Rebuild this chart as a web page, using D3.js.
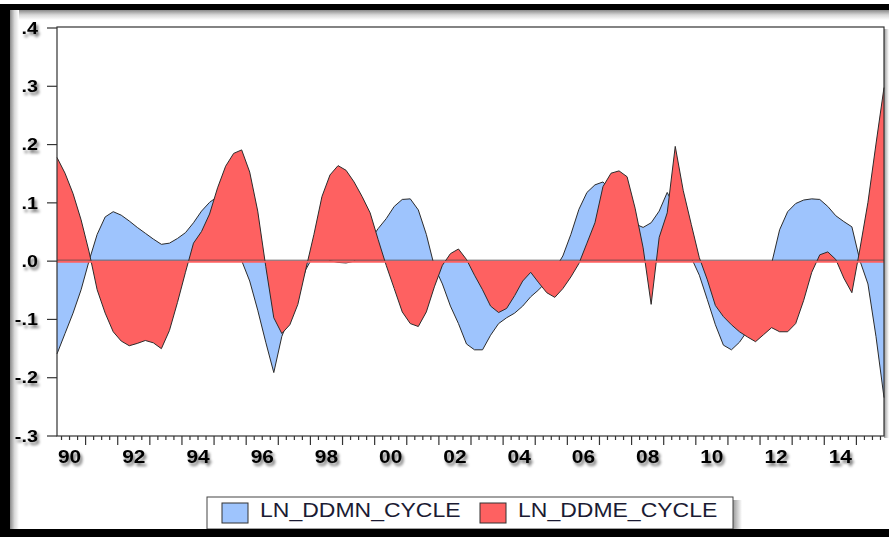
<!DOCTYPE html>
<html>
<head>
<meta charset="utf-8">
<script src="https://cdn.jsdelivr.net/npm/d3@7"></script>
<style>
body{margin:0;background:#fff;}
svg{display:block;font-family:Arial,"Liberation Sans",sans-serif;}
</style>
</head>
<body>
<div id="chart"></div>
<script>
const width = 889, height = 537;
const plot = {left: 57, right: 884, top: 27, bottom: 436};

// quarterly observations 1990Q1 - 2015Q4
const periods = d3.range(104).map(i => (1990 + Math.floor(i / 4)) + "Q" + (i % 4 + 1));

const seriesNames = ["LN_DDMN_CYCLE", "LN_DDME_CYCLE"];

const ddmn = [
  -.160, -.125, -.090, -.050, .000, .045, .075, .084,
  .078, .068, .057, .047, .037, .028, .030, .038,
  .048, .065, .085, .100, .110, .095, .050, .000,
  -.035, -.085, -.140, -.192, -.130, -.095, -.055, -.015,
  .010, .010, .000, -.003, -.004, -.001, .015, .035,
  .055, .072, .093, .105, .106, .087, .045, -.010,
  -.040, -.078, -.108, -.143, -.153, -.153, -.128, -.108,
  -.098, -.090, -.078, -.062, -.050, -.035, -.015, .008,
  .045, .088, .117, .130, .135, .120, .100, .080,
  .063, .057, .065, .085, .117, .090, .050, .005,
  -.025, -.067, -.110, -.145, -.153, -.140, -.120, -.090,
  -.050, -.005, .053, .084, .098, .104, .106, .105,
  .093, .077, .067, .058, .000, -.040, -.130, -.235];

const ddme = [
  .177, .150, .115, .070, .015, -.050, -.090, -.122,
  -.138, -.146, -.142, -.137, -.141, -.151, -.120, -.072,
  -.020, .030, .050, .080, .125, .162, .184, .190,
  .152, .085, -.010, -.098, -.125, -.110, -.075, -.014,
  .045, .110, .147, .163, .155, .135, .110, .082,
  .036, -.008, -.048, -.088, -.108, -.113, -.088, -.045,
  -.008, .012, .020, .002, -.025, -.050, -.078, -.089,
  -.082, -.060, -.035, -.020, -.038, -.055, -.063, -.048,
  -.028, -.005, .030, .065, .127, .150, .154, .144,
  .090, .022, -.075, .040, .082, .196, .120, .062,
  .005, -.033, -.077, -.096, -.110, -.122, -.131, -.139,
  -.127, -.115, -.122, -.122, -.108, -.068, -.020, .010,
  .015, .002, -.030, -.055, .020, .100, .200, .297];

const yTicks = [-0.3, -0.2, -0.1, 0, 0.1, 0.2, 0.3, 0.4];
const yTickLabels = ["-.3", "-.2", "-.1", ".0", ".1", ".2", ".3", ".4"];
const xTickLabels = ["90", "92", "94", "96", "98", "00", "02", "04", "06", "08", "10", "12", "14"];

const blue = "#9ec4fd", red = "#fe6161", edge = "#2b2b2b";

let svg = d3.select("#chart").
append("svg").
attr("width", width).
attr("height", height);

let defs = svg.append("defs");

let shadow = defs.append("filter").
attr("id", "txtShadow").
attr("x", "-30%").attr("y", "-30%").
attr("width", "180%").attr("height", "190%");
shadow.append("feGaussianBlur").attr("in", "SourceAlpha").attr("stdDeviation", 1.5);
shadow.append("feOffset").attr("dx", 2).attr("dy", 3);
shadow.append("feComponentTransfer").append("feFuncA").attr("type", "linear").attr("slope", 0.55);
let sm = shadow.append("feMerge");
sm.append("feMergeNode");
sm.append("feMergeNode").attr("in", "SourceGraphic");

function grad(id, x2, y2, stops) {
  let g = defs.append("linearGradient").attr("id", id).
  attr("x1", 0).attr("y1", 0).attr("x2", x2).attr("y2", y2);
  stops.forEach(s => g.append("stop").attr("offset", s[0]).attr("stop-color", s[1]));
}
grad("shadeDown", 0, 1, [[0, "#8a8a8a"], [0.5, "#d8d8d8"], [1, "#ffffff"]]);
grad("shadeRight", 1, 0, [[0, "#8a8a8a"], [0.5, "#d8d8d8"], [1, "#ffffff"]]);
grad("shadeSide", 1, 0, [[0, "#9a9a9a"], [1, "#ffffff"]]);

// outer frame
svg.append("rect").attr("x", 10).attr("y", 10).attr("width", width - 10).attr("height", 10).attr("fill", "url(#shadeDown)");
svg.append("rect").attr("x", 10).attr("y", 10).attr("width", 9).attr("height", height - 10).attr("fill", "url(#shadeRight)");
svg.append("rect").attr("x", 0).attr("y", 4).attr("width", width).attr("height", 6).attr("fill", "#000");
svg.append("rect").attr("x", 0).attr("y", 4).attr("width", 10).attr("height", height).attr("fill", "#000");

let x = d3.scaleLinear().
domain([0, periods.length - 1]).
range([plot.left, plot.right]);

let y = d3.scaleLinear().
domain([-0.3, 0.4]).
range([435.5, 27.5]);

// plot background + frame shadow
svg.append("rect").
attr("x", plot.right).attr("y", plot.top + 2).
attr("width", 5).attr("height", plot.bottom - plot.top).
attr("fill", "url(#shadeSide)");
svg.append("rect").
attr("x", plot.left).attr("y", plot.top).
attr("width", plot.right - plot.left).attr("height", plot.bottom - plot.top).
attr("fill", "#fff");

let area = d3.area().
x((d, i) => x(i)).
y0(y(0)).
y1(d => y(d));

let line = d3.line().
x((d, i) => x(i)).
y(d => y(d));

[[ddmn, blue], [ddme, red]].forEach(([vals, col]) => {
  svg.append("path").
  datum(vals).
  attr("d", area).
  attr("fill", col);
  svg.append("path").
  datum(vals).
  attr("d", line).
  attr("fill", "none").
  attr("stroke", edge).
  attr("stroke-width", 1);
});

// zero line
svg.append("line").
attr("x1", plot.left).attr("x2", plot.right).
attr("y1", y(0) + 1).attr("y2", y(0) + 1).
attr("stroke", red).attr("stroke-width", 2);
svg.append("line").
attr("x1", plot.left).attr("x2", plot.right).
attr("y1", y(0) - 0.5).attr("y2", y(0) - 0.5).
attr("stroke", "#3a3a3a").attr("stroke-width", 0.7);

svg.append("rect").
attr("x", plot.left).attr("y", plot.top).
attr("width", plot.right - plot.left).attr("height", plot.bottom - plot.top).
attr("fill", "none").
attr("stroke", "#333").
attr("stroke-width", 1.2);

// y axis
let yAxis = svg.append("g").
attr("transform", `translate(${plot.left},0)`).
call(d3.axisLeft(y).
tickValues(yTicks).
tickSize(10).
tickPadding(8).
tickFormat((d, i) => yTickLabels[i]));
yAxis.select(".domain").remove();
yAxis.selectAll("line").attr("stroke", "#333").attr("stroke-width", 1.2);
yAxis.selectAll("text").
attr("fill", "#000").
attr("font-size", 17).
attr("font-weight", "bold").
attr("x", -16.5).
attr("dy", "0.34em").
attr("transform", "scale(1.16,1)").
attr("filter", "url(#txtShadow)");

// x axis: quarter ticks at slot boundaries, longer at year boundaries
let xAxis = svg.append("g").
attr("transform", `translate(0,${plot.bottom})`).
call(d3.axisBottom(x).
tickValues(d3.range(0.5, periods.length - 1, 1)).
tickSize(4).
tickFormat(""));
xAxis.select(".domain").remove();
xAxis.selectAll("line").
attr("stroke", "#333").
attr("stroke-width", 1.2).
attr("y2", d => (d + 0.5) % 4 === 0 ? 9 : 4);

// year labels centred on each labelled year
let xLab = svg.append("g").
attr("transform", `translate(0,${plot.bottom})`).
call(d3.axisBottom(x).
tickValues(xTickLabels.map((d, k) => k * 8 + 1.5)).
tickSize(0).
tickPadding(0).
tickFormat((d, i) => xTickLabels[i]));
xLab.select(".domain").remove();
xLab.selectAll("text").
attr("fill", "#000").
attr("font-size", 18).
attr("font-weight", "bold").
attr("y", 27).
attr("dy", 0).
attr("transform", "scale(1.16,1)").
attr("filter", "url(#txtShadow)");

// legend
svg.append("rect").attr("x", 733).attr("y", 500).attr("width", 9).attr("height", 29).attr("fill", "url(#shadeSide)");
svg.append("rect").
attr("x", 207).attr("y", 497).
attr("width", 526).attr("height", 32).
attr("fill", "#fff").
attr("stroke", "#444").
attr("stroke-width", 1);

let legendItem = svg.selectAll(".legend-item").
data(seriesNames).
enter().
append("g").
attr("class", "legend-item").
attr("transform", (d, i) => `translate(${222 + i * 258},503)`);

legendItem.append("rect").
attr("width", 26).
attr("height", 20).
attr("fill", (d, i) => i === 0 ? blue : red).
attr("stroke", "#333").
attr("stroke-width", 1);

legendItem.append("text").
attr("x", 38 / 1.15).
attr("y", 14).
attr("font-size", 20).
attr("fill", "#1b1b33").
attr("transform", "scale(1.15,1)").
text(d => d);

// bottom frame bar
svg.append("rect").attr("x", 0).attr("y", 529).attr("width", width).attr("height", 8).attr("fill", "#000");
</script>
</body>
</html>
